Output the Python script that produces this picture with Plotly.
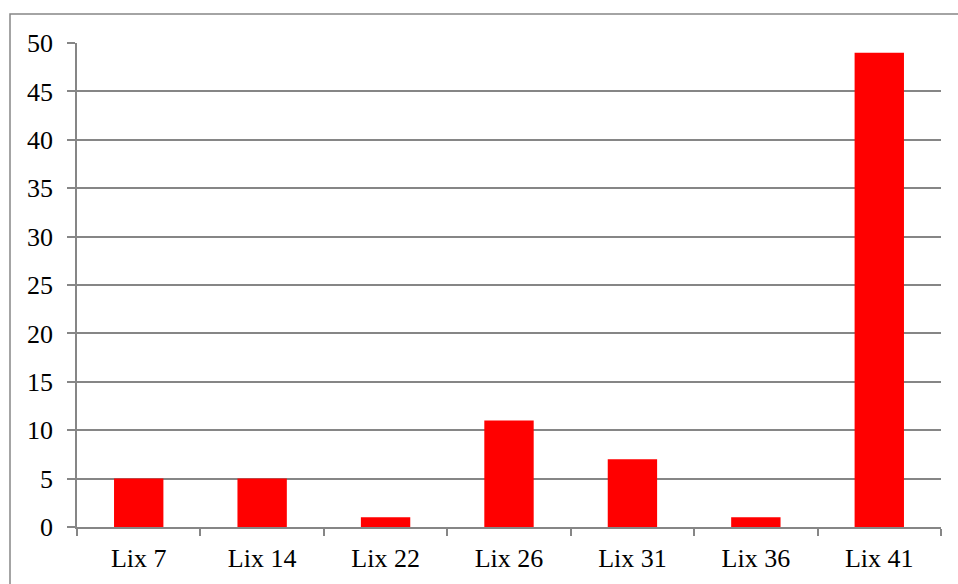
import plotly.graph_objects as go

categories = ["Lix 7", "Lix 14", "Lix 22", "Lix 26", "Lix 31", "Lix 36", "Lix 41"]
values = [5, 5, 1, 11, 7, 1, 49]
y_ticks = [0, 5, 10, 15, 20, 25, 30, 35, 40, 45, 50]

W, H = 958, 584
L, R, T, B = 77, 17, 43, 57
pw, ph = W - L - R, H - T - B

fig = go.Figure(go.Bar(
    x=categories, y=values,
    marker=dict(color="#FF0000", line=dict(width=0)),
))

grid = "#868686"
fig.update_layout(
    width=W, height=H,
    margin=dict(l=L, r=R, t=T, b=B),
    paper_bgcolor="white", plot_bgcolor="white",
    bargap=0.6,
    showlegend=False,
    font=dict(family="Liberation Serif, Times New Roman, serif", size=26, color="#000000"),
    xaxis=dict(
        showgrid=False, showline=True, linecolor=grid, linewidth=1.5,
        ticks="outside", tickson="boundaries", ticklen=7, tickcolor=grid, tickwidth=1.5,
        mirror=False, ticklabelstandoff=7,
    ),
    yaxis=dict(
        range=[0, 50], tickvals=y_ticks, showgrid=True, gridcolor=grid, gridwidth=1.5,
        showline=True, linecolor=grid, linewidth=1.5,
        ticks="outside", ticklen=8, tickcolor=grid, tickwidth=1.5,
        zeroline=False, ticklabelstandoff=9,
    ),
    shapes=[dict(
        type="rect", xref="paper", yref="paper",
        x0=(10 - L) / pw, x1=(W + 20 - L) / pw,
        y0=-(B + 20) / ph, y1=(H - B - 14) / ph,
        line=dict(color="#868686", width=1.5), fillcolor="rgba(0,0,0,0)", layer="below",
    )],
)

fig.write_html(
    "out.html",
    config={"displayModeBar": False},
    post_script="document.body.style.margin='0';document.body.style.overflow='hidden';",
)
